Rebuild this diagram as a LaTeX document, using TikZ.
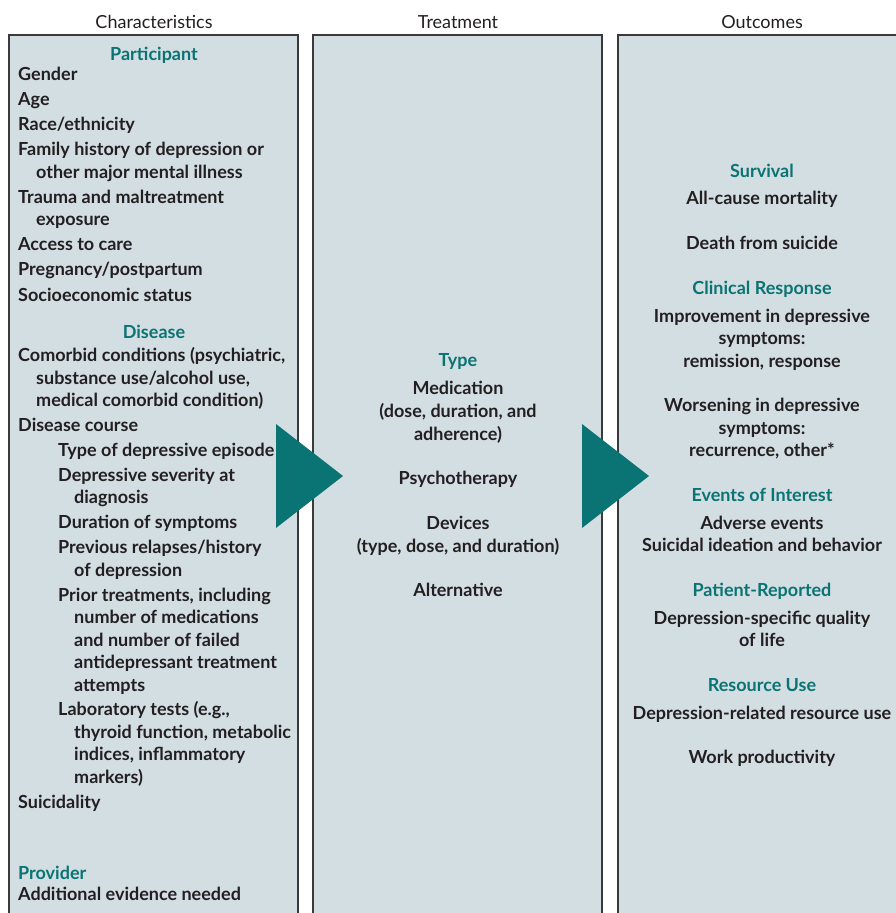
\documentclass[tikz,border=0pt]{standalone}
\usepackage{fontspec}
\setmainfont{Lato}
\definecolor{boxfill}{HTML}{D3DEE2}
\definecolor{teal1}{HTML}{0A7373}
\definecolor{txt}{HTML}{231F20}
\definecolor{edge}{HTML}{3A3A3A}
\begin{document}
\begin{tikzpicture}[x=1pt,y=-1pt,
  colbox/.style={draw=edge,line width=1.3pt,fill=boxfill},
  hdr/.style={anchor=mid,inner sep=0pt,text=txt,font=\fontsize{18}{21}\selectfont},
  sec/.style={anchor=mid,inner sep=0pt,text=teal1,font=\fontsize{18}{21}\selectfont\bfseries},
  ln/.style={anchor=mid west,inner sep=0pt,text=txt,font=\fontsize{18}{21}\selectfont\bfseries},
  cl/.style={anchor=mid,inner sep=0pt,text=txt,font=\fontsize{18}{21}\selectfont\bfseries},
  arrowtri/.style={fill=teal1,draw=none}]
\useasboundingbox (0,0) rectangle (895,913);
\fill[white] (0,0) rectangle (895,913);
% boxes
\draw[colbox] (9,35) rectangle (298,930);
\draw[colbox] (313,35) rectangle (602,930);
\draw[colbox] (618,35) rectangle (920,930);
\begin{scope}[yshift=-5pt]
% headers
\node[hdr] (h1) at (154,21) {Characteristics};
\node[hdr] (h2) at (458,21) {Treatment};
\node[hdr] (h3) at (762,21) {Outcomes};
% column 1
\node[sec] (p0) at (154,53) {Participant};
\node[ln] (p1) at (18,73) {Gender};
\node[ln] (p2) at (18,98) {Age};
\node[ln] (p3) at (18,123) {Race/ethnicity};
\node[ln] (p4) at (18,148) {Family history of depression or};
\node[ln] (p5) at (36,171) {other major mental illness};
\node[ln] (p6) at (18,196) {Trauma and maltreatment};
\node[ln] (p7) at (36,218) {exposure};
\node[ln] (p8) at (18,243) {Access to care};
\node[ln] (p9) at (18,268) {Pregnancy/postpartum};
\node[ln] (p10) at (18,294) {Socioeconomic status};
\node[sec] (d0) at (154,331) {Disease};
\node[ln] (d1) at (18,354) {Comorbid conditions (psychiatric,};
\node[ln] (d2) at (36,377) {substance use/alcohol use,};
\node[ln] (d3) at (36,399) {medical comorbid condition)};
\node[ln] (d4) at (18,424) {Disease course};
\node[ln] (d5) at (58,449) {Type of depressive episode};
\node[ln] (d6) at (58,474) {Depressive severity at};
\node[ln] (d7) at (74,496) {diagnosis};
\node[ln] (d8) at (58,521) {Duration of symptoms};
\node[ln] (d9) at (58,546) {Previous relapses/history};
\node[ln] (d10) at (74,569) {of depression};
\node[ln] (d11) at (58,594) {Prior treatments, including};
\node[ln] (d12) at (74,616) {number of medications};
\node[ln] (d13) at (74,639) {and number of failed};
\node[ln] (d14) at (74,661) {antidepressant treatment};
\node[ln] (d15) at (74,684) {attempts};
\node[ln] (d16) at (58,708) {Laboratory tests (e.g.,};
\node[ln] (d17) at (74,731) {thyroid function, metabolic};
\node[ln] (d18) at (74,753) {indices, inflammatory};
\node[ln] (d19) at (74,776) {markers)};
\node[ln] (d20) at (18,801) {Suicidality};
\node[sec,anchor=mid west] (v0) at (18,872) {Provider};
\node[ln] (v1) at (18,893) {Additional evidence needed};
% column 2
\node[sec] (t0) at (458,359) {Type};
\node[cl] (t1) at (458,387) {Medication};
\node[cl] (t2) at (458,410) {(dose, duration, and};
\node[cl] (t3) at (458,433) {adherence)};
\node[cl] (t4) at (458,477) {Psychotherapy};
\node[cl] (t5) at (458,522) {Devices};
\node[cl] (t6) at (458,545) {(type, dose, and duration)};
\node[cl] (t7) at (458,589) {Alternative};
% column 3
\node[sec] (o0) at (762,170) {Survival};
\node[cl] (o1) at (762,197) {All-cause mortality};
\node[cl] (o2) at (762,242) {Death from suicide};
\node[sec] (o3) at (762,287) {Clinical Response};
\node[cl] (o4) at (762,315) {Improvement in depressive};
\node[cl] (o5) at (762,337) {symptoms:};
\node[cl] (o6) at (762,360) {remission, response};
\node[cl] (o7) at (762,404) {Worsening in depressive};
\node[cl] (o8) at (762,427) {symptoms:};
\node[cl] (o9) at (762,449) {recurrence, other*};
\node[sec] (o10) at (762,494) {Events of Interest};
\node[cl] (o11) at (762,522) {Adverse events};
\node[cl] (o12) at (762,544) {Suicidal ideation and behavior};
\node[sec] (o13) at (762,589) {Patient-Reported};
\node[cl] (o14) at (762,617) {Depression-specific quality};
\node[cl] (o15) at (762,639) {of life};
\node[sec] (o16) at (762,684) {Resource Use};
\node[cl] (o17) at (762,712) {Depression-related resource use};
\node[cl] (o18) at (762,756) {Work productivity};
\end{scope}
% arrows (on top)
\fill[arrowtri] (276,424) -- (343,476) -- (276,528) -- cycle;
\fill[arrowtri] (582,424) -- (649,476) -- (582,528) -- cycle;
\end{tikzpicture}
\end{document}
